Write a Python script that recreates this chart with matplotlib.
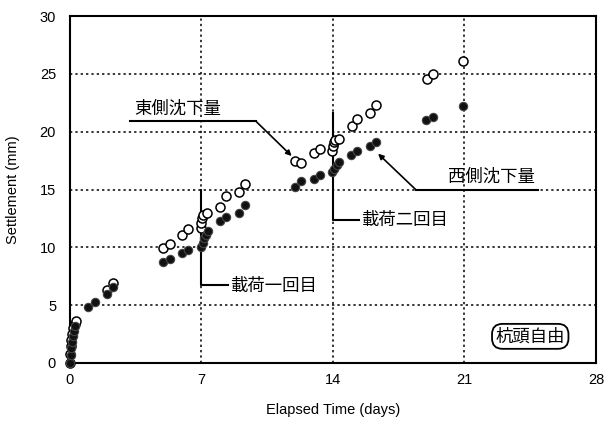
import matplotlib
matplotlib.use("Agg")
import matplotlib.pyplot as plt

# Settlement readings (days, mm).
east_days = [0.0, 0.02, 0.05, 0.08, 0.12, 0.18, 0.25, 0.3,
             1.95, 2.3,
             4.97, 5.32, 5.98, 6.3,
             6.95, 7.0, 7.05, 7.1, 7.27, 7.98, 8.3, 9.0, 9.3,
             11.97, 12.3, 13.0, 13.3,
             13.95, 14.0, 14.05, 14.1, 14.33, 15.0, 15.3, 15.97, 16.3,
             18.98, 19.3, 20.93]
east_mm = [0.0, 0.8, 1.5, 2.0, 2.5, 3.0, 3.4, 3.6,
           6.3, 6.9,
           9.9, 10.3, 11.1, 11.6,
           11.7, 12.1, 12.5, 12.8, 13.0, 13.5, 14.4, 14.75, 15.5,
           17.5, 17.3, 18.2, 18.5,
           18.3, 18.8, 19.1, 19.3, 19.4, 20.5, 21.1, 21.6, 22.3,
           24.6, 25.0, 26.1]

west_days = [0.0, 0.03, 0.06, 0.1, 0.15, 0.2, 0.27,
             0.97, 1.33, 1.95, 2.3,
             4.97, 5.32, 5.98, 6.3,
             7.0, 7.08, 7.15, 7.25, 7.36, 7.98, 8.3, 9.0, 9.3,
             11.97, 12.3, 13.0, 13.3,
             13.95, 14.05, 14.2, 14.33, 14.95, 15.3, 15.97, 16.3,
             18.95, 19.3, 20.93]
west_mm = [0.0, 0.7, 1.3, 1.8, 2.3, 2.8, 3.2,
           4.8, 5.3, 6.0, 6.6,
           8.75, 9.0, 9.5, 9.8,
           10.05, 10.4, 10.8, 11.1, 11.4, 12.3, 12.65, 13.0, 13.65,
           15.2, 15.7, 15.95, 16.25,
           16.5, 16.8, 17.1, 17.4, 18.0, 18.35, 18.75, 19.1,
           21.05, 21.3, 22.2]

x_ticks = [0, 7, 14, 21, 28]
y_ticks = [0, 5, 10, 15, 20, 25, 30]

jp = ["Noto Sans CJK JP", "DejaVu Sans"]
plt.rcParams["font.family"] = ["Liberation Sans", "DejaVu Sans"]

fig = plt.figure(figsize=(6.06, 4.24), dpi=100)
ax = fig.add_axes([0.1155, 0.144, 0.868, 0.818])

ax.set_xlim(0, 28)
ax.set_ylim(0, 30)
ax.set_xticks(x_ticks)
ax.set_yticks(y_ticks)
ax.tick_params(direction="in", length=0, labelsize=10.5)
ax.tick_params(axis="y", pad=10)
ax.tick_params(axis="x", pad=7)
ax.grid(True, color="black", linestyle=(0, (1.5, 2)), linewidth=1.1)
for s in ax.spines.values():
    s.set_linewidth(1.5)

ax.plot(east_days, east_mm, "o", markersize=6.5, markerfacecolor="white",
        markeredgecolor="black", markeredgewidth=1.1, clip_on=False, zorder=4)
ax.plot(west_days, west_mm, "o", markersize=6, markerfacecolor="#111111",
        markeredgecolor="#444444", markeredgewidth=0.8, clip_on=False, zorder=5)

# Loading events
ax.plot([7, 7, 8.4], [15.0, 6.7, 6.7], color="black", linewidth=1.5, zorder=3)
ax.text(8.5, 6.7, "載荷一回目", family=jp, fontsize=12.5, va="center", ha="left")
ax.plot([14, 14, 15.4], [21.6, 12.4, 12.4], color="black", linewidth=1.5, zorder=3)
ax.text(15.5, 12.4, "載荷二回目", family=jp, fontsize=12.5, va="center", ha="left")

# Series labels
ax.text(3.4, 21.2, "東側沈下量", family=jp, fontsize=12.5, va="bottom", ha="left")
ax.annotate("", xy=(11.8, 17.9), xytext=(9.9, 20.9),
            arrowprops=dict(arrowstyle="-|>", color="black", lw=1.2,
                            mutation_scale=8, shrinkA=0, shrinkB=0))
ax.plot([3.2, 9.9], [20.9, 20.9], color="black", linewidth=1.5)

ax.text(20.1, 15.3, "西側沈下量", family=jp, fontsize=12.5, va="bottom", ha="left")
ax.annotate("", xy=(16.4, 18.1), xytext=(18.4, 15.0),
            arrowprops=dict(arrowstyle="-|>", color="black", lw=1.2,
                            mutation_scale=8, shrinkA=0, shrinkB=0))
ax.plot([18.4, 24.9], [15.0, 15.0], color="black", linewidth=1.5)

ax.text(24.5, 2.3, "杭頭自由", family=jp, fontsize=12.5, va="center", ha="center",
        bbox=dict(boxstyle="round,pad=0.2,rounding_size=0.6",
                  facecolor="white", edgecolor="black", linewidth=1.3))

ax.set_xlabel("Elapsed Time (days)", fontsize=10.5, labelpad=12)
ax.set_ylabel("Settlement (mm)", fontsize=10.5, labelpad=14)

fig.savefig("out.png", dpi=100)
